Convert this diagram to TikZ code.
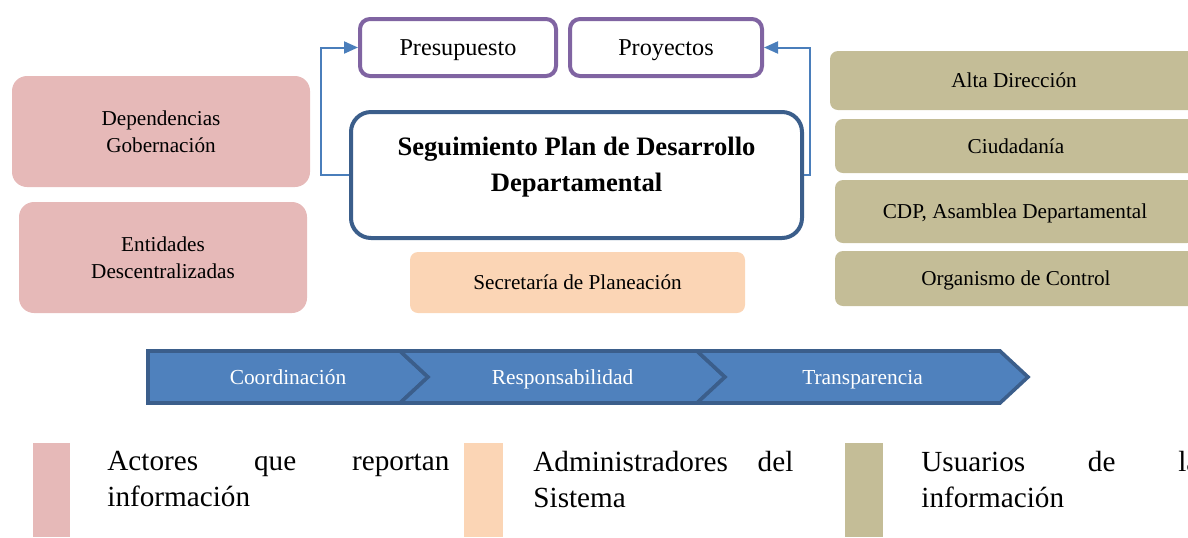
\documentclass[tikz,border=0pt]{standalone}
\usepackage{fontspec}
\setmainfont{Liberation Serif}
\usetikzlibrary{arrows.meta, positioning}

\definecolor{rosa}{HTML}{E6B9B8}
\definecolor{durazno}{HTML}{FBD5B5}
\definecolor{oliva}{HTML}{C4BD97}
\definecolor{morado}{HTML}{8064A2}
\definecolor{azulborde}{HTML}{3B5E8B}
\definecolor{azul}{HTML}{4F81BD}
\definecolor{flecha}{HTML}{4A7EBB}

\tikzset{
  actor/.style={fill=rosa, rounded corners=7.5pt, align=center, inner sep=0pt,
    font=\fontsize{10.6}{13.5}\selectfont},
  usuario/.style={fill=oliva, rounded corners=4pt, inner sep=0pt, text depth=0pt,
    font=\fontsize{10.6}{13.5}\selectfont},
  modulo/.style={draw=morado, line width=2pt, rounded corners=5pt, inner sep=0pt,
    text depth=0pt, minimum height=28.5pt, font=\fontsize{12.1}{14}\selectfont},
  centro/.style={draw=azulborde, line width=2pt, rounded corners=10pt, fill=white,
    minimum width=225.5pt, minimum height=63pt},
  admin/.style={fill=durazno, rounded corners=4pt, minimum width=167.5pt,
    minimum height=30.5pt, font=\fontsize{10.6}{13.5}\selectfont},
  flujo/.style={draw=flecha, line width=1pt, -{Triangle[length=7pt,width=6pt]}},
  etapa/.style={fill=azul, draw=azulborde, line width=1.8pt, line join=miter},
  etapatxt/.style={text=white, anchor=base, font=\fontsize{10.7}{13}\selectfont},
  leyenda/.style={align=left, inner sep=0pt, anchor=north west,
    font=\fontsize{14.6}{18}\selectfont}
}

\begin{document}
\begin{tikzpicture}[x=0.5pt,y=-0.5pt]
        \useasboundingbox (0,0) rectangle (1188,537);

        % Actores (izquierda)
        \node[actor, minimum width=149pt, minimum height=55.5pt] (dep) at (161,131.5) {Dependencias\\Gobernación};
        \node[actor, minimum width=144pt, minimum height=55.5pt] (ent) at (163,257.5) {Entidades\\Descentralizadas};

        % Modulos
        \node[modulo, minimum width=98pt] (pres) at (458,47.5) {Presupuesto};
        \node[modulo, minimum width=96pt] (proy) at (666,47.5) {Proyectos};

        % Sistema central
        \node[centro] (seg) at (576.5,175) {};
        \node[align=center, font=\bfseries\fontsize{13.3}{18}\selectfont] (segtxt) at (576.5,167) {Seguimiento Plan de Desarrollo\\Departamental};
        \node[admin] (sec) at (577.5,282.5) {Secretaría de Planeación};

        % Flechas hacia los modulos
        \draw[flujo] (seg.west) -- ++(-28,0) |- (pres.west);
        \draw[flujo] (seg.east) -- ++(6,0) |- (proy.east);

        % Usuarios (derecha)
        \node[usuario, minimum width=184pt, minimum height=29.5pt] (alta) at (1014,80.5) {Alta Dirección};
        \node[usuario, minimum width=181pt, minimum height=27pt] (ciud) at (1016,146) {Ciudadanía};
        \node[usuario, minimum width=180pt, minimum height=31.5pt] (cdp) at (1015,211.5) {CDP, Asamblea Departamental};
        \node[usuario, minimum width=181pt, minimum height=27.5pt] (org) at (1016,278.5) {Organismo de Control};

        % Principios (flechas de proceso)
        \foreach \xa/\xb/\nd/\lbl in {148/400/0/Coordinación, 400/697/28/Responsabilidad, 697/1000/28/Transparencia} {
          \draw[etapa] (\xa,351) -- (\xb,351) -- (\xb+28,377) -- (\xb,403) -- (\xa,403) -- (\xa+\nd,377) -- cycle;
          \node[etapatxt] (p-\xa) at ({(\xa+\xb+28)/2},384) {\lbl};
        }

        % Leyenda
        \fill[rosa] (33,443) rectangle (70,537);
        \fill[durazno] (464,443) rectangle (503,537);
        \fill[oliva] (845,443) rectangle (883,537);
        \node[leyenda] (leyA) at (107,451) {\makebox[171pt][s]{Actores que reportan}\\información};
        \node[leyenda] (leyB) at (533,451) {\makebox[130pt][s]{Administradores del}\\Sistema};
        \node[leyenda] (leyC) at (921,451) {\makebox[139pt][s]{Usuarios de la}\\información};
\end{tikzpicture}
\end{document}
